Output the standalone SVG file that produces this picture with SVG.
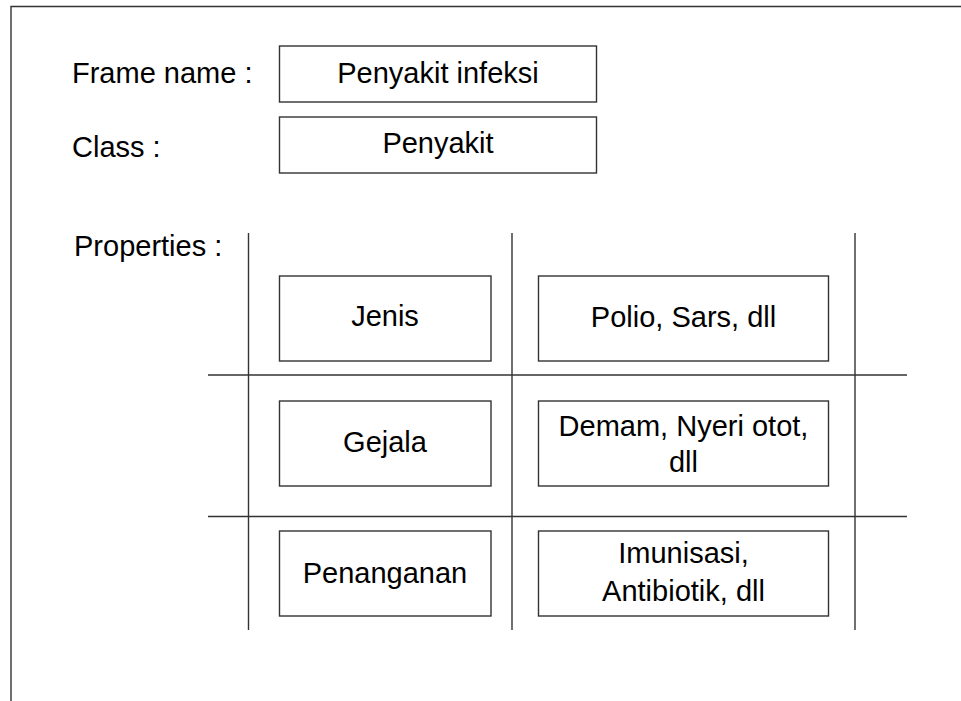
<svg xmlns="http://www.w3.org/2000/svg" width="961" height="701" viewBox="0 0 961 701">
  <style>
    .box { fill: #ffffff; stroke: #333333; stroke-width: 1.4; }
    .rule { stroke: #333333; stroke-width: 1.4; fill: none; }
    .lbl { font-family: "Liberation Sans", Arial, sans-serif; font-size: 29px; fill: #000000; }
    .mid { text-anchor: middle; }
  </style>
  <rect width="961" height="701" fill="#ffffff"/>

  <!-- frame outline (top and left edges) -->
  <path class="rule" d="M11,701 V6.5 H961"/>

  <!-- field labels -->
  <g id="label-frame-name"><text class="lbl" x="72" y="83">Frame name :</text></g>
  <g id="label-class"><text class="lbl" x="72" y="157">Class :</text></g>
  <g id="label-properties"><text class="lbl" x="74" y="256">Properties :</text></g>

  <g id="frame-name">
    <rect class="box" x="279.5" y="46" width="317" height="56"/>
    <text class="lbl mid" x="438" y="83">Penyakit infeksi</text>
  </g>
  <g id="class">
    <rect class="box" x="279.5" y="117" width="317" height="56"/>
    <text class="lbl mid" x="438" y="153">Penyakit</text>
  </g>

  <!-- property table grid -->
  <g id="grid">
    <line class="rule" x1="248.5" y1="233" x2="248.5" y2="630"/>
    <line class="rule" x1="512" y1="233" x2="512" y2="630"/>
    <line class="rule" x1="855" y1="233" x2="855" y2="630"/>
    <line class="rule" x1="208" y1="375" x2="907" y2="375"/>
    <line class="rule" x1="208" y1="516.5" x2="907" y2="516.5"/>
  </g>

  <g id="slot-jenis">
    <rect class="box" x="279.5" y="276" width="211.5" height="85"/>
    <text class="lbl mid" x="385" y="326">Jenis</text>
  </g>
  <g id="value-jenis">
    <rect class="box" x="538.5" y="276" width="290" height="85"/>
    <text class="lbl mid" x="683.5" y="327">Polio, Sars, dll</text>
  </g>

  <g id="slot-gejala">
    <rect class="box" x="279.5" y="401" width="211.5" height="85"/>
    <text class="lbl mid" x="385" y="452">Gejala</text>
  </g>
  <g id="value-gejala">
    <rect class="box" x="538.5" y="401" width="290" height="85"/>
    <text class="lbl mid" x="683.5" y="436">Demam, Nyeri otot,</text>
    <text class="lbl mid" x="683.5" y="472">dll</text>
  </g>

  <g id="slot-penanganan">
    <rect class="box" x="279.5" y="531" width="211.5" height="85"/>
    <text class="lbl mid" x="385" y="583">Penanganan</text>
  </g>
  <g id="value-penanganan">
    <rect class="box" x="538.5" y="531" width="290" height="85"/>
    <text class="lbl mid" x="683.5" y="563">Imunisasi,</text>
    <text class="lbl mid" x="683.5" y="601">Antibiotik, dll</text>
  </g>
</svg>
